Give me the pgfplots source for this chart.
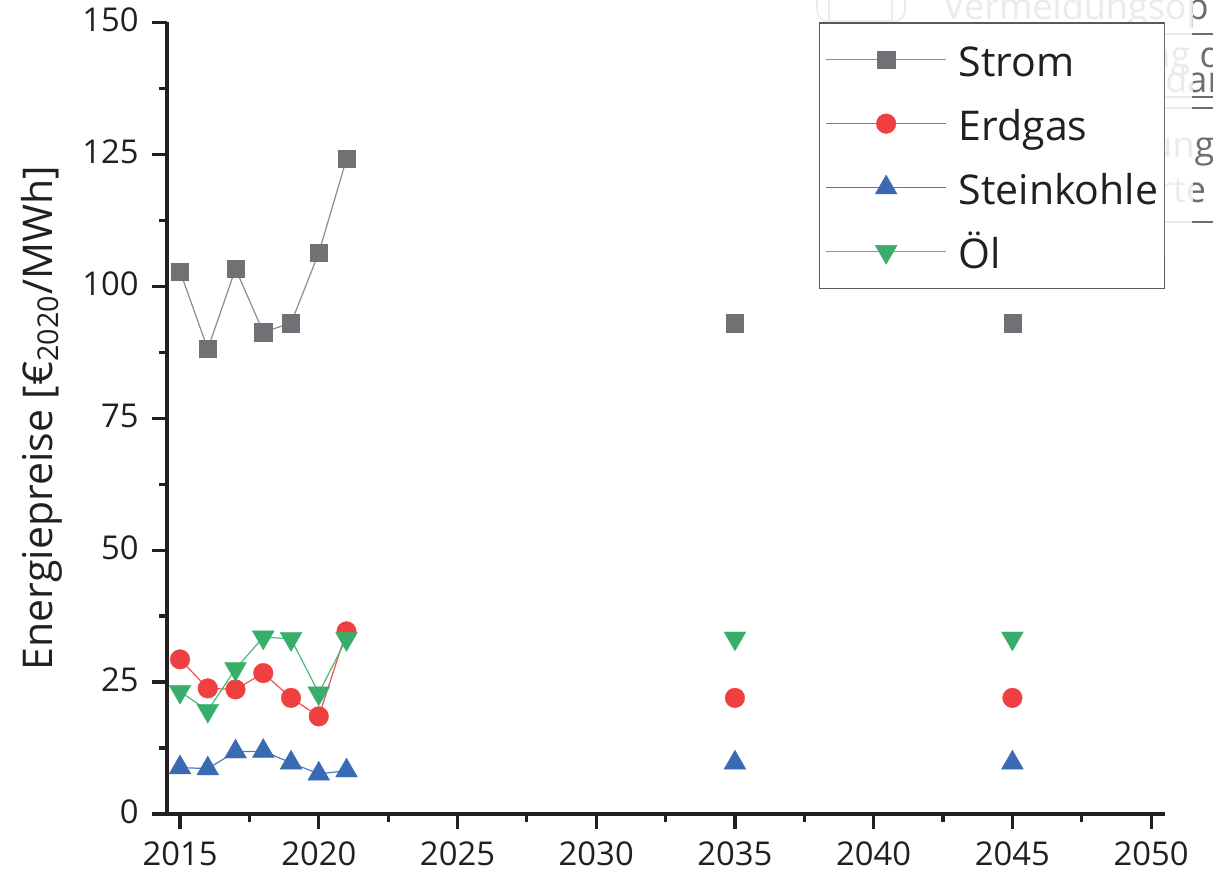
\documentclass[border=0pt]{standalone}
\usepackage{pgfplots}
\pgfplotsset{compat=1.18}
\usepackage{fontspec}
\setmainfont{Open Sans}
\definecolor{cStrom}{HTML}{707174}
\definecolor{cStromL}{HTML}{8C8C8C}
\definecolor{cGas}{HTML}{EE4040}
\definecolor{cGasL}{HTML}{EE5050}
\definecolor{cKohle}{HTML}{3A6AB4}
\definecolor{cKohleL}{HTML}{4C7CC4}
\definecolor{cOel}{HTML}{38AE6B}
\definecolor{cOelL}{HTML}{4CB87A}
\definecolor{axc}{HTML}{231F20}
\definecolor{ghostD}{HTML}{6E6E6E}
\definecolor{ghostL}{HTML}{EBEBEB}
\newcommand{\bigf}{\fontsize{20.5}{24}\selectfont}
\newcommand{\ghf}{\fontsize{18}{22}\selectfont}
\pgfplotsset{
  myleg/.style n args={5}{
    legend image code/.code={
      \draw[draw=#1, line width=0.6pt] (0pt,0pt) -- (60pt,0pt);
      \path plot[mark=#3, mark size=#4, mark options={solid, draw=#2, fill=#2, line width=0.2pt, #5}] coordinates {(30pt,0pt)};
    }
  }
}
\newcommand{\ghoststuff}[1]{%
  \draw[draw=#1, rounded corners=6pt, line width=0.8pt] (325pt,396pt) rectangle (369pt,420pt);
  \draw[draw=#1, line width=0.6pt] (331pt,396.6pt) rectangle (362.5pt,420pt);
  \node[anchor=base west, inner sep=0pt, font=\ghf] at (388pt,397pt) {\color{#1}Vermeidungsop};
  \node[anchor=base west, inner sep=0pt, font=\ghf] at (490.5pt,373pt) {\color{#1}ng d};
  \node[anchor=base west, inner sep=0pt, font=\ghf] at (499pt,360.5pt) {\color{#1}dar};
  \node[anchor=base west, inner sep=0pt, font=\ghf] at (491.5pt,328pt) {\color{#1}ung};
  \node[anchor=base west, inner sep=0pt, font=\ghf] at (495.5pt,305.5pt) {\color{#1}rte};
  \draw[draw=#1, line width=1pt] (499pt,390pt) -- (524pt,390pt);
  \draw[draw=#1, line width=1pt] (499pt,358.5pt) -- (524pt,358.5pt);
  \draw[draw=#1, line width=1pt] (499pt,353pt) -- (524pt,353pt);
  \draw[draw=#1, line width=1pt] (499pt,296pt) -- (524pt,296pt);
}
\begin{document}
\begin{tikzpicture}
\begin{axis}[
  scale only axis,
  width=499pt, height=395.85pt,
  xmin=2014.53, xmax=2050.5, ymin=0, ymax=150,
  axis x line*=bottom, axis y line*=left,
  axis line style={axc, line width=1.6pt},
  xtick={2015,2020,...,2050}, ytick={0,25,...,150},
  minor x tick num=1, minor y tick num=1,
  tick align=outside,
  major tick length=7.5pt, minor tick length=4pt,
  every tick/.style={axc, line width=1.6pt},
  /pgf/number format/assume math mode=true,
  x tick label style={/pgf/number format/1000 sep=},
  ticklabel style={font=\fontsize{16.4}{19}\selectfont, text=axc},
  xticklabel style={anchor=north, inner sep=0pt, yshift=-6pt},
  yticklabel style={anchor=east, inner sep=0pt, xshift=-6.5pt, yshift=1.25pt},
  ylabel={Energiepreise [€\textsubscript{2020}/MWh]},
  ylabel style={font=\bigf, text=axc, at={(axis description cs:-0.1152,0.5)}, anchor=base},
  clip=false,
  legend cell align=left,
  legend style={
    at={(1,1)}, anchor=north east,
    draw=black!65, line width=0.75pt, fill=white,
    font=\bigf,
    inner xsep=3pt, inner ysep=5.8pt,
    row sep=7pt, column sep=6pt,
    nodes={inner xsep=0pt, inner ysep=0pt, text height=21pt, text depth=4pt, text=axc},
  },
]
\addplot[color=cStromL, line width=0.6pt, mark=square*, mark size=4.3pt,
  mark options={solid, fill=cStrom, draw=cStrom, line width=0.2pt},
  myleg={cStromL}{cStrom}{square*}{4.3pt}{}]
  coordinates {(2015,102.8) (2016,88.1) (2017,103.3) (2018,91.3) (2019,93.0) (2020,106.3) (2021,124.1)};
\addlegendentry{Strom}
\addplot[forget plot, only marks, mark=square*, mark size=4.3pt,
  mark options={solid, fill=cStrom, draw=cStrom, line width=0.2pt}]
  coordinates {(2035,93.0) (2045,93.0)};

\addplot[color=cGasL, line width=0.6pt, mark=*, mark size=4.9pt,
  mark options={solid, fill=cGas, draw=cGas, line width=0.2pt},
  myleg={cGasL}{cGas}{*}{4.9pt}{}]
  coordinates {(2015,29.3) (2016,23.8) (2017,23.6) (2018,26.7) (2019,22.0) (2020,18.5) (2021,34.6)};
\addlegendentry{Erdgas}
\addplot[forget plot, only marks, mark=*, mark size=4.9pt,
  mark options={solid, fill=cGas, draw=cGas, line width=0.2pt}]
  coordinates {(2035,22.0) (2045,22.0)};

\addplot[color=cKohleL, line width=0.6pt, mark=triangle*, mark size=6.3pt,
  mark options={solid, fill=cKohle, draw=cKohle, line width=0.2pt},
  myleg={cKohleL}{cKohle}{triangle*}{6.3pt}{}]
  coordinates {(2015,8.8) (2016,8.6) (2017,11.8) (2018,11.9) (2019,9.7) (2020,7.6) (2021,8.2)};
\addlegendentry{Steinkohle}
\addplot[forget plot, only marks, mark=triangle*, mark size=6.3pt,
  mark options={solid, fill=cKohle, draw=cKohle, line width=0.2pt}]
  coordinates {(2035,9.7) (2045,9.7)};

\addplot[color=cOelL, line width=0.6pt, mark=triangle*, mark size=6.3pt,
  mark options={solid, rotate=180, fill=cOel, draw=cOel, line width=0.2pt},
  myleg={cOelL}{cOel}{triangle*}{6.3pt}{rotate=180}]
  coordinates {(2015,23.2) (2016,19.6) (2017,27.5) (2018,33.5) (2019,33.2) (2020,22.9) (2021,33.2)};
\addlegendentry{Öl}
\addplot[forget plot, only marks, mark=triangle*, mark size=6.3pt,
  mark options={solid, rotate=180, fill=cOel, draw=cOel, line width=0.2pt}]
  coordinates {(2035,33.3) (2045,33.3)};
\end{axis}
% faint background artefacts (an overlapping window), outside the legend box
\begin{scope}
  \clip (320pt,396.45pt) -- (498.95pt,396.45pt) -- (498.95pt,280pt) -- (530pt,280pt) -- (530pt,430pt) -- (320pt,430pt) -- cycle;
  \ghoststuff{ghostD}
  \begin{scope}
    \clip (320pt,280pt) rectangle (512.5pt,430pt);
    \fill[white] (320pt,280pt) rectangle (512.5pt,430pt);
    \ghoststuff{ghostL}
  \end{scope}
\end{scope}
\pgfresetboundingbox
\path[use as bounding box] (-83.5pt,-27.5pt) rectangle (523pt,407pt);
\end{tikzpicture}
\end{document}
